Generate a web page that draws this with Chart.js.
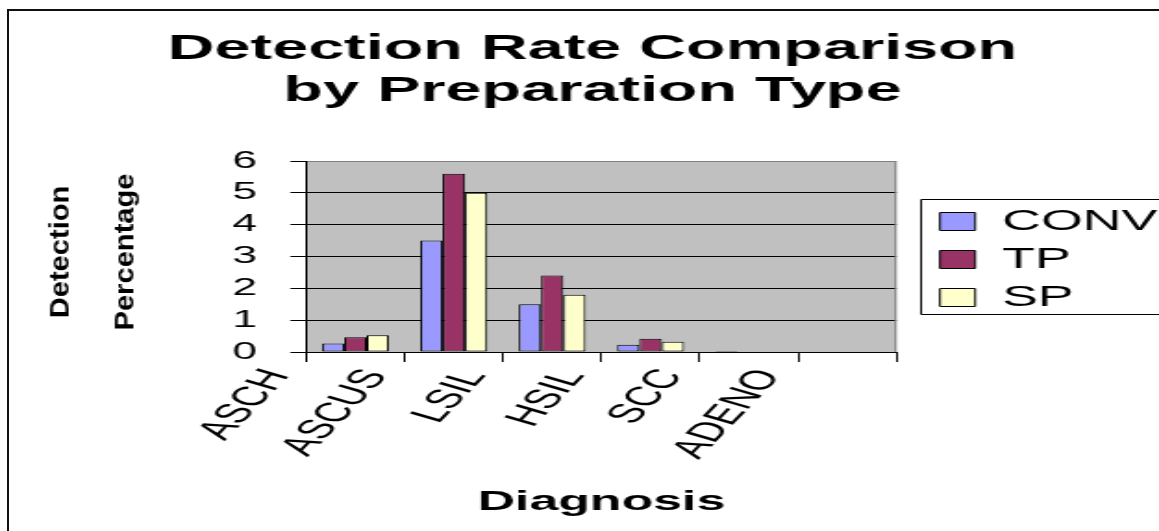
<!DOCTYPE html>
<html>
<head>
<meta charset="utf-8">
<script src="https://cdn.jsdelivr.net/npm/chart.js@4.4.1/dist/chart.umd.min.js"></script>
<style>
  html, body { margin: 0; padding: 0; background: #fff; overflow: hidden; }
  #wrap { position: relative; width: 1159px; height: 531px; }
  #c { position: absolute; left: 0; top: 0; width: 1159px !important; height: 531px !important; display: block; }
  #frame { position: absolute; left: 7px; top: 9px; width: 1200px; height: 600px;
           border-top: 2px solid #111; border-left: 2px solid #111; pointer-events: none; }
</style>
</head>
<body>
<div id="wrap">
  <canvas id="c" width="626" height="531" style="width:1159px;height:531px"></canvas>
  <div id="frame"></div>
</div>
<script>
// ---- data ----
const categories = ['ASCH', 'ASCUS', 'LSIL', 'HSIL', 'SCC', 'ADENO'];
const seriesNames = ['CONV', 'TP', 'SP'];
const convValues = [0.27, 3.5, 1.5, 0.23, 0.03, 0];
const tpValues   = [0.46, 5.6, 2.4, 0.42, 0, 0];
const spValues   = [0.53, 5.0, 1.8, 0.32, 0, 0];
const yTicks = [0, 1, 2, 3, 4, 5, 6];
const titleLines = ['Detection Rate Comparison', 'by Preparation Type'];
const yTitleLines = ['Detection', 'Percentage'];
const xTitle = 'Diagnosis';

// horizontal stretch of the whole picture
const S = 1159 / 626;
const FONT = "'Liberation Sans', Arial, sans-serif";

const plotBg = {
  id: 'plotBg',
  beforeDraw(chart) {
    const {ctx, chartArea: a} = chart;
    ctx.save();
    ctx.fillStyle = '#C0C0C0';
    ctx.fillRect(a.left, a.top, a.right - a.left, a.bottom - a.top);
    ctx.restore();
  },
  afterDraw(chart) {
    const {ctx, chartArea: a} = chart;
    ctx.save();
    // right border of plot area
    ctx.strokeStyle = '#808080';
    ctx.lineWidth = 1;
    ctx.beginPath();
    ctx.moveTo(a.right - 0.5, a.top);
    ctx.lineTo(a.right - 0.5, a.bottom);
    ctx.stroke();
    // legend frame
    const lg = chart.legend;
    const lx = Math.round(lg.left) - 1.5, ty = 199.5, by = 314.5;
    ctx.strokeStyle = '#000';
    ctx.beginPath();
    ctx.moveTo(700, ty); ctx.lineTo(lx, ty); ctx.lineTo(lx, by); ctx.lineTo(700, by);
    ctx.stroke();
    // y axis title (two rotated lines)
    ctx.fillStyle = '#000';
    ctx.font = 'bold 28px ' + FONT;
    ctx.textAlign = 'center';
    ctx.textBaseline = 'middle';
    const xs = [60 / S, 125 / S];
    yTitleLines.forEach((t, i) => {
      ctx.save();
      ctx.translate(xs[i], 252);
      ctx.scale(1 / S, 1.04);
      ctx.rotate(-Math.PI / 2);
      ctx.fillText(t, 0, 0);
      ctx.restore();
    });
    ctx.restore();
  }
};

const colors = ['#9999FF', '#993366', '#FFFFCC'];
const values = [convValues, tpValues, spValues];

new Chart(document.getElementById('c'), {
  type: 'bar',
  data: {
    labels: categories,
    datasets: seriesNames.map((n, i) => ({
      label: n,
      data: values[i],
      backgroundColor: colors[i],
      borderColor: '#000',
      borderWidth: 1,
      borderSkipped: false,
      categoryPercentage: 0.68,
      barPercentage: 1.0
    }))
  },
  options: {
    responsive: false,
    animation: false,
    devicePixelRatio: 1,
    layout: { padding: { left: 5, right: -9, top: 0, bottom: 0 } },
    plugins: {
      title: {
        display: true,
        text: titleLines,
        color: '#000',
        font: { family: FONT, size: 35, weight: 'bold', lineHeight: 1.2 },
        padding: { top: 28, bottom: 49 }
      },
      legend: {
        position: 'right',
        fullSize: false,
        align: 'center',
        maxWidth: 160,
        title: { display: true, text: ' ', font: { size: 1, lineHeight: 1 }, padding: { top: 5, bottom: 0 } },
        labels: {
          color: '#000',
          font: { family: FONT, size: 29 },
          boxWidth: 19,
          boxHeight: 18,
          padding: 9
        }
      },
      tooltip: { enabled: false }
    },
    scales: {
      x: {
        grid: { display: true, drawOnChartArea: false, drawTicks: true, tickLength: 10, color: '#000', tickColor: '#000', offset: true },
        border: { display: true, color: '#000', width: 1 },
        ticks: {
          color: '#000',
          font: { family: FONT, size: 27 },
          autoSkip: false,
          minRotation: 62,
          maxRotation: 62,
          labelOffset: -42,
          padding: 2
        },
        title: {
          display: true,
          text: xTitle,
          color: '#000',
          font: { family: FONT, size: 28, weight: 'bold' },
          padding: { top: 0, bottom: 12 }
        },
        afterFit(scale) { scale.height = 179; }
      },
      y: {
        min: 0,
        max: 6,
        afterBuildTicks(scale) { scale.ticks = yTicks.map(v => ({ value: v })); },
        grid: {
          color: (c) => (c.tick && c.tick.value === 6 ? '#808080' : '#000'),
          tickColor: '#000',
          tickLength: 8.6,
          lineWidth: 1
        },
        border: { display: true, color: '#000', width: 1 },
        ticks: {
          color: '#000',
          font: { family: FONT, size: 24 },
          padding: 18
        },
        afterFit(scale) { scale.width = 160.4; }
      },
      spacer: {
        type: 'linear',
        position: 'right',
        display: true,
        grid: { display: false },
        border: { display: false },
        ticks: { display: false },
        afterFit(scale) { scale.width = 14.5; }
      }
    }
  },
  plugins: [plotBg]
});
</script>
</body>
</html>
